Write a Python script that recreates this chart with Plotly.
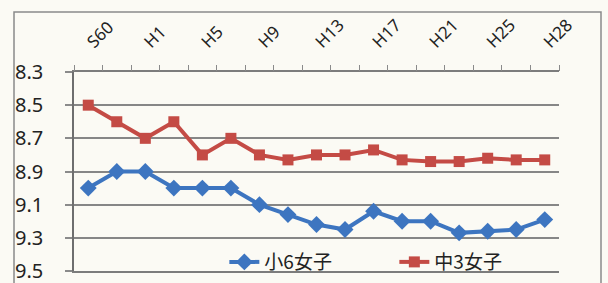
import plotly.graph_objects as go

categories = ["S60", "S62", "H1", "H3", "H5", "H7", "H9", "H11", "H13",
              "H15", "H17", "H19", "H21", "H23", "H25", "H27", "H28"]
tick_labels = ["S60", "H1", "H5", "H9", "H13", "H17", "H21", "H25", "H28"]
elem6_girls = [9.0, 8.9, 8.9, 9.0, 9.0, 9.0, 9.1, 9.16, 9.22, 9.25,
               9.14, 9.2, 9.2, 9.27, 9.26, 9.25, 9.19]
jhs3_girls = [8.5, 8.6, 8.7, 8.6, 8.8, 8.7, 8.8, 8.83, 8.8, 8.8,
              8.77, 8.83, 8.84, 8.84, 8.82, 8.83, 8.83]
y_ticks = [8.3, 8.5, 8.7, 8.9, 9.1, 9.3, 9.5]

BLUE = "#3d75c0"
RED = "#c44b45"
BG = "#fbfaf4"

fig = go.Figure()
fig.add_trace(go.Scatter(
    x=categories, y=elem6_girls, name="小6女子", mode="lines+markers",
    line=dict(color=BLUE, width=4),
    marker=dict(symbol="diamond", size=13, color=BLUE),
))
fig.add_trace(go.Scatter(
    x=categories, y=jhs3_girls, name="中3女子", mode="lines+markers",
    line=dict(color=RED, width=4),
    marker=dict(symbol="square", size=11, color=RED),
))

n = len(categories)
fig.update_layout(
    width=608, height=283,
    margin=dict(l=74, r=49, t=72, b=12, autoexpand=False),
    paper_bgcolor=BG, plot_bgcolor=BG,
    font=dict(family="Noto Sans, Noto Sans CJK JP", color="#222222"),
    showlegend=True,
    legend=dict(
        orientation="h", x=0.31, y=0.045, xanchor="left", yanchor="middle",
        bgcolor="rgba(0,0,0,0)", font=dict(size=19, family="Noto Sans CJK JP"),
        entrywidth=125, traceorder="normal",
    ),
    xaxis=dict(
        type="category", side="top", range=[-0.5, n - 0.5], automargin=False,
        tickmode="array", tickvals=tick_labels, ticktext=tick_labels,
        tickangle=-45, ticks="", showgrid=False, zeroline=False,
        showline=True, mirror=True, linecolor="#7c7c7c", linewidth=1.5,
        ticklabelstandoff=12,
        tickfont=dict(size=17, color="#222222"),
    ),
    xaxis2=dict(
        overlaying="x", side="top", anchor="y", range=[-0.5, n - 0.5],
        tickmode="linear", tick0=-0.5, dtick=1, ticks="outside", ticklen=6,
        tickcolor="#8a8a8a", tickwidth=1.2, showticklabels=False,
        showgrid=False, zeroline=False, showline=False, automargin=False,
    ),
    yaxis=dict(
        range=[9.5, 8.3], tickmode="array", tickvals=y_ticks,
        ticktext=[f"{v:.1f}" for v in y_ticks], automargin=False,
        ticklabeloverflow="allow",
        showgrid=True, gridcolor="#868686", gridwidth=1.5,
        showline=True, linecolor="#6e6e6e", linewidth=1.5,
        ticks="outside", ticklen=7, tickcolor="#8a8a8a", tickwidth=1.5,
        ticklabelstandoff=18, zeroline=False,
        tickfont=dict(size=20, color="#222222"),
    ),
)
# invisible trace to activate xaxis2
fig.add_trace(go.Scatter(x=[0], y=[8.3], xaxis="x2", mode="markers",
                         marker=dict(opacity=0), showlegend=False, hoverinfo="skip"))

# outer chart frame
fig.add_shape(type="rect", xref="paper", yref="paper",
              x0=-0.1237, x1=1.0866, y0=-0.2, y1=1.3015,
              line=dict(color="#8a8a8a", width=1.5), fillcolor="rgba(0,0,0,0)",
              layer="below")

fig.write_html("out.html", config={"displayModeBar": False},
               post_script="document.body.style.margin='0';document.body.style.background='%s';" % BG)
